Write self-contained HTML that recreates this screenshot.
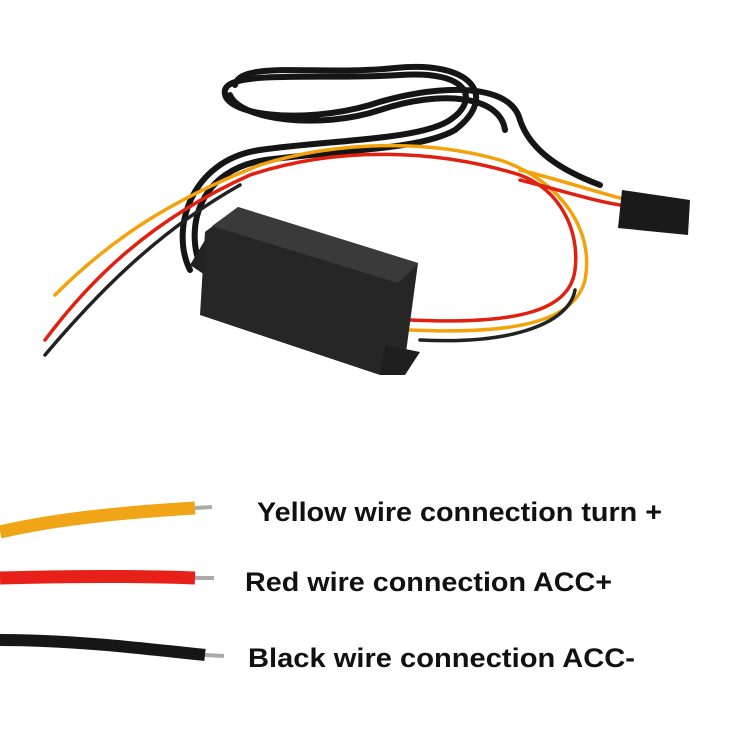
<!DOCTYPE html>
<html><head><style>
html,body{margin:0;padding:0;background:#fff;width:750px;height:750px;overflow:hidden}
svg{display:block}
text{font-family:"Liberation Sans",sans-serif;font-weight:bold;fill:#111}
</style></head><body>
<svg width="750" height="750" viewBox="0 0 750 750">
<rect width="750" height="750" fill="#fff"/>
<g fill="none" stroke="#151515" stroke-width="6" stroke-linecap="round">
<path d="M190 270 C170 230 190 160 260 150 C330 140 420 140 450 120 C480 100 470 70 400 75 C320 80 230 70 225 90 C220 115 300 125 370 105 C430 85 510 80 520 120 C530 150 560 170 600 185"/>
<path d="M200 265 C185 225 200 170 265 160 C340 150 420 150 455 130 C500 95 470 60 395 68 C320 76 240 60 235 85"/>
<path d="M230 95 C240 120 320 130 380 110 C440 90 500 95 505 130"/>
</g>
<g fill="none" stroke-width="3.5" stroke-linecap="round">
<path d="M55 295 C110 240 170 200 260 165 C340 140 430 140 500 160" stroke="#f4a20c"/>
<path d="M45 340 C90 280 150 220 250 175 C340 145 440 150 520 175 C560 190 580 230 575 270 C570 310 520 325 410 320" stroke="#e02010"/>
<path d="M45 355 C100 290 160 230 240 185" stroke="#222"/>
<path d="M500 160 C560 180 595 230 585 280 C575 320 520 335 410 330" stroke="#f4a20c"/>
<path d="M420 340 C520 345 570 320 575 290" stroke="#222"/>
<path d="M520 180 C560 190 590 200 620 205" stroke="#e02010"/>
<path d="M520 170 C560 180 590 190 620 198" stroke="#f4a20c"/>
</g>
<polygon points="622,190 690,200 688,235 618,228" fill="#1a1a1a"/>
<polygon points="238,207 418,263 405,360 380,375 200,315 205,232" fill="#262626"/>
<polygon points="238,207 418,263 398,283 212,226" fill="#3a3a3a"/>
<polygon points="205,240 190,265 205,275" fill="#222"/>
<polygon points="385,345 420,352 405,375 380,375" fill="#1e1e1e"/>
<g fill="none" stroke-linecap="butt">
<path d="M0 532 C60 518 130 512 195 508" stroke="#f0a516" stroke-width="13"/>
<path d="M195 508 L212 507" stroke="#aaa" stroke-width="4"/>
<path d="M0 578 C70 576 140 576 195 578" stroke="#e8201a" stroke-width="13"/>
<path d="M195 578 L214 578" stroke="#aaa" stroke-width="4"/>
<path d="M0 640 C70 640 140 648 205 655" stroke="#161616" stroke-width="12"/>
<path d="M205 655 L224 656" stroke="#aaa" stroke-width="4"/>
</g>
<text x="257" y="521" font-size="27" textLength="405" lengthAdjust="spacingAndGlyphs">Yellow wire connection turn +</text>
<text x="245" y="591" font-size="27" textLength="367" lengthAdjust="spacingAndGlyphs">Red wire connection ACC+</text>
<text x="248" y="667" font-size="27" textLength="387" lengthAdjust="spacingAndGlyphs">Black wire connection ACC-</text>
</svg>
</body></html>
